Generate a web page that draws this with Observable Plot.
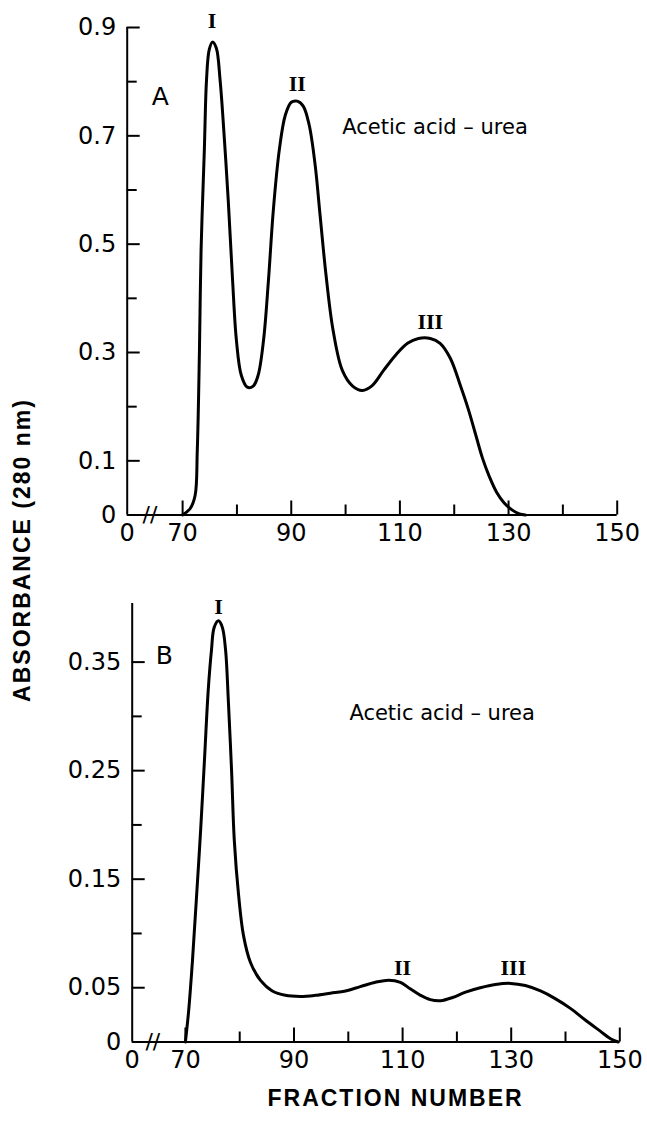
<!DOCTYPE html>
<html><head><meta charset="utf-8">
<script src="https://cdn.jsdelivr.net/npm/d3@7"></script>
<script src="https://cdn.jsdelivr.net/npm/@observablehq/plot@0.6"></script>
<style>
body{margin:0;background:#fff;}
#wrap{position:relative;width:647px;height:1122px;}
#ylab{position:absolute;left:21.5px;top:550px;transform:translate(-50%,-50%) rotate(-90deg);font-family:"Liberation Sans";font-weight:bold;font-size:23px;letter-spacing:2px;white-space:nowrap;color:#000;}
</style></head><body>
<div id="wrap"><div id="a"></div><div id="b"></div><div id="ylab">ABSORBANCE (280 nm)</div></div>
<script>
// Panel A — Acetic acid–urea
const fractionA = [70, 71.4, 72.3, 72.7, 73.1, 73.4, 74.0, 74.4, 74.9, 75.5, 76.2, 76.9, 77.7, 78.4, 79.2, 79.9, 80.8, 81.9, 83.0, 83.9, 84.9, 85.8, 86.7, 87.8, 88.9, 90.0, 91.1, 92.2, 93.3, 94.4, 95.3, 96.4, 97.7, 99.4, 101.3, 103.1, 104.9, 107.0, 109.2, 111.4, 113.4, 115.6, 117.4, 119.3, 121.1, 122.6, 123.9, 125.2, 126.5, 127.8, 129.2, 130.7, 132.0, 133.1];
const absorbanceA = [0, 0.012, 0.036, 0.119, 0.304, 0.489, 0.674, 0.803, 0.859, 0.873, 0.862, 0.803, 0.692, 0.581, 0.433, 0.323, 0.258, 0.236, 0.238, 0.258, 0.323, 0.433, 0.563, 0.674, 0.738, 0.762, 0.764, 0.755, 0.720, 0.646, 0.554, 0.443, 0.341, 0.267, 0.238, 0.230, 0.239, 0.267, 0.295, 0.317, 0.326, 0.326, 0.317, 0.289, 0.240, 0.195, 0.150, 0.105, 0.070, 0.042, 0.022, 0.009, 0.002, 0];
// Panel B — Acetic acid–urea
const fractionB = [70.0, 70.6, 71.3, 72.0, 72.8, 73.5, 74.2, 74.8, 75.3, 76.1, 76.8, 77.4, 77.9, 78.5, 79.0, 79.8, 80.7, 82.0, 83.8, 86.0, 88.4, 91.2, 93.9, 96.7, 99.5, 102.2, 105.0, 107.4, 109.6, 111.4, 113.3, 115.1, 117.0, 119.2, 121.6, 124.3, 127.1, 129.9, 132.6, 135.4, 138.1, 140.9, 143.7, 146.4, 148.3, 149.7];
const absorbanceB = [0, 0.029, 0.075, 0.130, 0.195, 0.259, 0.324, 0.361, 0.382, 0.388, 0.382, 0.361, 0.315, 0.250, 0.186, 0.135, 0.098, 0.073, 0.057, 0.047, 0.043, 0.042, 0.043, 0.045, 0.047, 0.051, 0.055, 0.057, 0.055, 0.049, 0.043, 0.039, 0.038, 0.041, 0.046, 0.050, 0.053, 0.054, 0.052, 0.047, 0.040, 0.031, 0.020, 0.010, 0.003, 0];

// Axis ticks
const xMajor = [70, 90, 110, 130, 150];
const xMinor = [80, 100, 120, 140];
const yMajorA = [0.1, 0.3, 0.5, 0.7, 0.9];
const yMinorA = [0.2, 0.4, 0.6, 0.8];
const yMajorB = [0.05, 0.15, 0.25, 0.35];
const yMinorB = [0.10, 0.20, 0.30];

// Peak labels
const peaksA = [{x: 75.4, y: 0.912, t: "I"}, {x: 91.1, y: 0.796, t: "II"}, {x: 115.6, y: 0.356, t: "III"}];
const peaksB = [{x: 76.1, y: 0.401, t: "I"}, {x: 110.0, y: 0.068, t: "II"}, {x: 130.4, y: 0.068, t: "III"}];

function panel({fr, ab, x0, yMax, yMajor, yMinor, dec, height, mt, mb, ml, mr, letter, letterPos, notePos, peaks, xlabel}) {
  const width = 647;
  const innerH = height - mt - mb;
  const innerW = width - ml - mr;
  const data = fr.map((f, i) => ({f, a: ab[i]}));
  const marks = [
    Plot.ruleY([0], {stroke: "#000", strokeWidth: 2}),
    Plot.ruleX([x0], {stroke: "#000", strokeWidth: 2}),
    Plot.ruleX(xMajor, {stroke: "#000", strokeWidth: 2, insetTop: innerH - 14}),
    Plot.ruleX(xMinor, {stroke: "#000", strokeWidth: 2, insetTop: innerH - 10}),
    Plot.ruleY(yMajor, {stroke: "#000", strokeWidth: 2, insetRight: innerW - 13}),
    Plot.ruleY(yMinor, {stroke: "#000", strokeWidth: 2, insetRight: innerW - 10}),
    Plot.axisX({ticks: [x0, ...xMajor], tickSize: 0, tickPadding: 9, tickFormat: d => d === x0 ? "0" : String(d), fontSize: 24}),
    Plot.axisY({ticks: [0, ...yMajor], tickSize: 0, tickPadding: 11, tickFormat: d => d === 0 ? "0" : d.toFixed(dec), fontSize: 24}),
    Plot.text([{x: 64, y: 0}], {x: "x", y: "y", text: () => "//", fontSize: 22, lineAnchor: "middle", fill: "#000"}),
    Plot.line(data, {x: "f", y: "a", curve: "catmull-rom", stroke: "#000", strokeWidth: 3}),
    Plot.text([letterPos], {x: "x", y: "y", text: () => letter, fontSize: 25, fill: "#000"}),
    Plot.text([notePos], {x: "x", y: "y", text: () => "Acetic acid – urea", fontSize: 21, textAnchor: "start", fill: "#000"}),
    Plot.text(peaks, {x: "x", y: "y", text: "t", fontSize: 22, fontFamily: "Liberation Serif", fontWeight: "bold", fill: "#000"})
  ];
  if (xlabel) {
    marks.push(Plot.text([108.7], {x: d => d, frameAnchor: "bottom", dy: 64, text: () => xlabel, fontSize: 23, fontWeight: "bold", fontFamily: "Liberation Sans", fill: "#000"}));
  }
  return Plot.plot({
    width, height,
    marginTop: mt, marginBottom: mb, marginLeft: ml, marginRight: mr,
    style: {fontFamily: "DejaVu Sans", fontSize: "24px", color: "#000", background: "#fff", overflow: "visible"},
    x: {domain: [x0, 150], axis: null},
    y: {domain: [0, yMax], axis: null},
    marks
  });
}

const a = panel({
  fr: fractionA, ab: absorbanceA, x0: 59.8, yMax: 0.9, yMajor: yMajorA, yMinor: yMinorA, dec: 1,
  height: 560, mt: 27, mb: 45.5, ml: 126.7, mr: 30.3,
  letter: "A", letterPos: {x: 65.9, y: 0.772}, notePos: {x: 99.4, y: 0.716}, peaks: peaksA
});
const b = panel({
  fr: fractionB, ab: absorbanceB, x0: 60.2, yMax: 0.404, yMajor: yMajorB, yMinor: yMinorB, dec: 2,
  height: 562, mt: 43, mb: 80.5, ml: 131.7, mr: 27.7,
  letter: "B", letterPos: {x: 66.1, y: 0.356}, notePos: {x: 100.2, y: 0.303}, peaks: peaksB,
  xlabel: "FRACTION NUMBER"
});
document.getElementById("a").appendChild(a);
document.getElementById("b").appendChild(b);
// letter spacing for the x-axis title
d3.select(b).selectAll("text").filter(function() { return this.textContent === "FRACTION NUMBER"; }).attr("letter-spacing", "2px");
</script>
</body></html>
